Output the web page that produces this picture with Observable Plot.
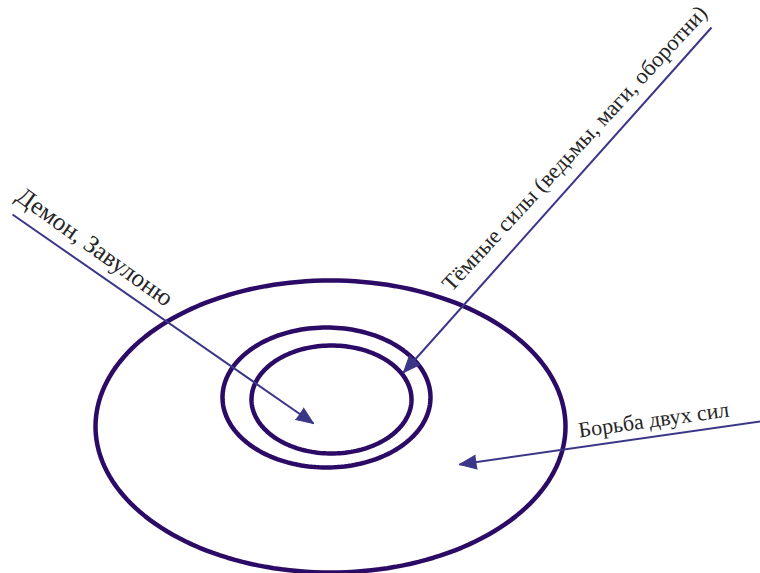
<!DOCTYPE html>
<html>
<head>
<meta charset="utf-8">
<script src="https://cdn.jsdelivr.net/npm/d3@7"></script>
<script src="https://cdn.jsdelivr.net/npm/@observablehq/plot@0.6"></script>
<style>
  html, body { margin: 0; padding: 0; background: #fff; }
  #chart svg { display: block; }
</style>
</head>
<body>
<div id="chart"></div>
<script>
// Rings (diagram coordinates, y downward)
const ringNames = ["Борьба двух сил", "Тёмные силы", "Демон"];
const ringCx = [330, 326, 331];
const ringCy = [426, 397, 399];
const ringRx = [235, 104, 80];
const ringRy = [146, 70, 54];

// Arrows: start -> tip
const arrowLabels = ["Демон, Завулоню", "Тёмные силы (ведьмы, маги, оборотни)", "Борьба двух сил"];
const arrowX1 = [12, 711, 760];
const arrowY1 = [214, 27, 421];
const arrowX2 = [313, 403, 459];
const arrowY2 = [423, 372, 464];

// Label anchors (baseline start), angles and sizes
const labelX = [14, 451, 579];
const labelY = [199, 292, 437];
const labelAngle = [35.5, -47.3, -8];
const labelSize = [25, 22.5, 22];

const ringColor = "#2b0b66";
const arrowColor = "#3a3789";

// Ellipse outlines as closed paths
const ringPoints = [];
ringNames.forEach((name, i) => {
  const n = 180;
  for (let k = 0; k <= n; k++) {
    const t = (k / n) * 2 * Math.PI;
    ringPoints.push({ring: name, x: ringCx[i] + ringRx[i] * Math.cos(t), y: ringCy[i] + ringRy[i] * Math.sin(t)});
  }
});

const arrows = arrowLabels.map((label, i) => ({
  label,
  x1: arrowX1[i], y1: arrowY1[i], x2: arrowX2[i], y2: arrowY2[i],
  rotate: Math.atan2(arrowX2[i] - arrowX1[i], -(arrowY2[i] - arrowY1[i])) * 180 / Math.PI
}));

const labels = arrowLabels.map((text, i) => ({text, x: labelX[i], y: labelY[i], rotate: labelAngle[i], size: labelSize[i]}));

const chart = Plot.plot({
  width: 760,
  height: 573,
  margin: 0,
  style: {background: "#fff"},
  x: {domain: [0, 760], range: [0, 760], axis: null},
  y: {domain: [0, 573], range: [0, 573], axis: null},
  marks: [
    Plot.line(ringPoints, {x: "x", y: "y", z: "ring", stroke: ringColor, strokeWidth: 4.5, curve: "linear"}),
    Plot.link(arrows, {x1: "x1", y1: "y1", x2: "x2", y2: "y2", stroke: arrowColor, strokeWidth: 2}),
    Plot.vector(arrows, {x: "x2", y: "y2", rotate: "rotate", length: 17, r: 7, shape: "spike", anchor: "end", fill: arrowColor, stroke: arrowColor, strokeWidth: 1}),
    Plot.text(labels, {x: "x", y: "y", text: "text", rotate: "rotate", fontSize: "size", textAnchor: "start", lineAnchor: "bottom", fontFamily: "Liberation Serif", fill: "#262626"})
  ]
});
document.getElementById("chart").appendChild(chart);
</script>
</body>
</html>
